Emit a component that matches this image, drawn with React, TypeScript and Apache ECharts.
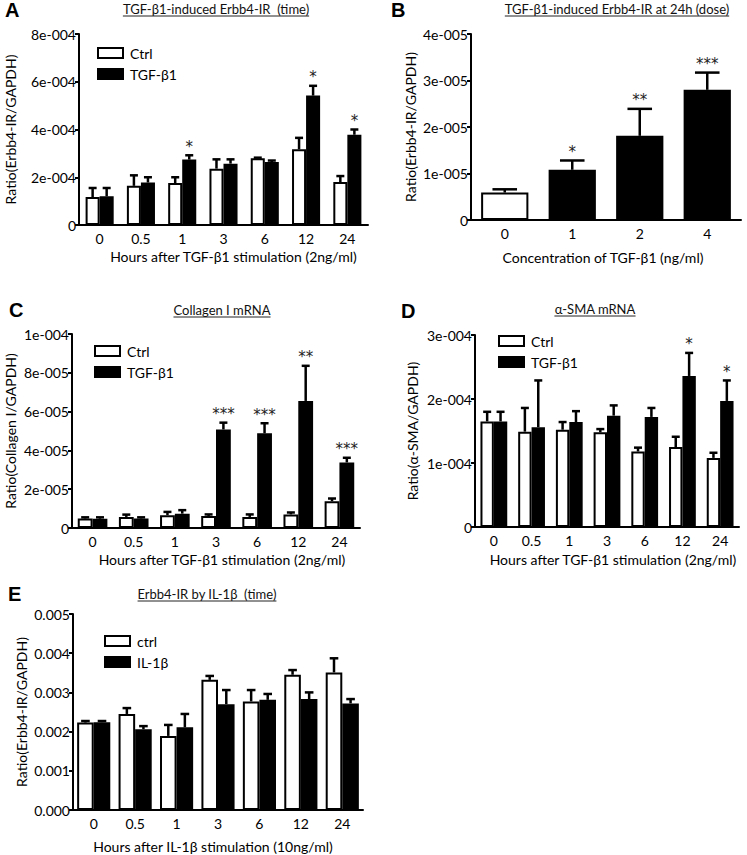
import React, { useEffect, useRef } from 'react';
import * as echarts from 'echarts';

const FONT = 'Lato';
const LETTER_FONT = 'Liberation Sans';

// ---------- categories ----------
const hourCats = ['0', '0.5', '1', '3', '6', '12', '24'];
const doseCats = ['0', '1', '2', '4'];

// ---------- Panel A: TGF-β1-induced Erbb4-IR (time) ----------
const aCtrl = [1.17e-4, 1.64e-4, 1.76e-4, 2.36e-4, 2.8e-4, 3.17e-4, 1.8e-4];
const aCtrlErr = [1.55e-4, 2.08e-4, 2.0e-4, 2.75e-4, 2.82e-4, 3.65e-4, 2.05e-4];
const aTgf = [1.2e-4, 1.78e-4, 2.74e-4, 2.57e-4, 2.64e-4, 5.42e-4, 3.78e-4];
const aTgfErr = [1.55e-4, 2.0e-4, 2.92e-4, 2.75e-4, 2.7e-4, 5.83e-4, 4.0e-4];
const aStars = ['', '', '*', '', '', '*', '*'];
const aTicks = ['0', '2e-004', '4e-004', '6e-004', '8e-004'];

// ---------- Panel B: dose ----------
const bVals = [0.59e-5, 1.08e-5, 1.81e-5, 2.8e-5];
const bErr = [0.66e-5, 1.28e-5, 2.39e-5, 3.17e-5];
const bStars = ['', '*', '**', '***'];
const bTicks = ['0', '1e-005', '2e-005', '3e-005', '4e-005'];

// ---------- Panel C: Collagen I mRNA ----------
const cCtrl = [0.49e-5, 0.57e-5, 0.66e-5, 0.62e-5, 0.57e-5, 0.7e-5, 1.38e-5];
const cCtrlErr = [0.55e-5, 0.69e-5, 0.83e-5, 0.7e-5, 0.7e-5, 0.8e-5, 1.52e-5];
const cTgf = [0.48e-5, 0.49e-5, 0.74e-5, 5.08e-5, 4.88e-5, 6.55e-5, 3.38e-5];
const cTgfErr = [0.55e-5, 0.55e-5, 0.92e-5, 5.43e-5, 5.4e-5, 8.36e-5, 3.62e-5];
const cStars = ['', '', '', '***', '***', '**', '***'];
const cTicks = ['0', '2e-005', '4e-005', '6e-005', '8e-005', '1e-004'];

// ---------- Panel D: α-SMA mRNA ----------
const dCtrl = [1.65e-4, 1.49e-4, 1.52e-4, 1.48e-4, 1.18e-4, 1.25e-4, 1.08e-4];
const dCtrlErr = [1.8e-4, 1.86e-4, 1.64e-4, 1.53e-4, 1.24e-4, 1.41e-4, 1.16e-4];
const dTgf = [1.65e-4, 1.56e-4, 1.64e-4, 1.74e-4, 1.72e-4, 2.36e-4, 1.97e-4];
const dTgfErr = [1.8e-4, 2.29e-4, 1.81e-4, 1.9e-4, 1.86e-4, 2.72e-4, 2.29e-4];
const dStars = ['', '', '', '', '', '*', '*'];
const dTicks = ['0', '1e-004', '2e-004', '3e-004'];

// ---------- Panel E: Erbb4-IR by IL-1β ----------
const eCtrl = [0.00223, 0.00245, 0.00189, 0.00332, 0.00277, 0.00345, 0.00351];
const eCtrlErr = [0.00227, 0.0026, 0.00217, 0.00342, 0.00306, 0.00357, 0.00387];
const eIl = [0.00224, 0.00206, 0.00211, 0.0027, 0.00281, 0.00283, 0.00272];
const eIlErr = [0.00227, 0.00214, 0.00245, 0.00306, 0.00296, 0.003, 0.00283];
const eTicks = ['0.000', '0.001', '0.002', '0.003', '0.004', '0.005'];

const titles = [
  { text: 'TGF-β1-induced Erbb4-IR  (time)', cx: 216, cy: 9, uy: 16 },
  { text: 'TGF-β1-induced Erbb4-IR at 24h (dose)', cx: 617, cy: 9, uy: 16 },
  { text: 'Collagen I mRNA', cx: 222, cy: 310, uy: 317 },
  { text: 'α-SMA mRNA', cx: 595, cy: 309, uy: 316 },
  { text: 'Erbb4-IR by IL-1β  (time)', cx: 207, cy: 594, uy: 601 },
];
const letters = [
  { t: 'A', x: 5, y: 0 },
  { t: 'B', x: 391, y: 0 },
  { t: 'C', x: 9, y: 300 },
  { t: 'D', x: 401, y: 301 },
  { t: 'E', x: 8, y: 584 },
];

function measure(text: string, size: number, family: string) {
  const ctx = document.createElement('canvas').getContext('2d');
  if (!ctx) return text.length * size * 0.5;
  ctx.font = `${size}px ${family}`;
  return ctx.measureText(text).width;
}

const TITLE_SIZE = 13;
const AX_SIZE = 14;

function yAxis(gridIndex: number, max: number, interval: number, labels: string[], name: string, gap: number) {
  return {
    type: 'value',
    gridIndex,
    min: 0,
    max,
    interval,
    name,
    nameLocation: 'middle',
    nameGap: gap,
    nameTextStyle: { fontFamily: FONT, fontSize: AX_SIZE, color: '#000' },
    axisLine: { show: true, lineStyle: { color: '#000', width: 2 } },
    axisTick: { show: true, length: 4, lineStyle: { color: '#000', width: 2 } },
    splitLine: { show: false },
    axisLabel: {
      margin: 3,
      fontFamily: FONT,
      fontSize: AX_SIZE,
      color: '#000',
      formatter: (v: number) => labels[Math.round(v / interval)] ?? '',
    },
  };
}

function xAxis(gridIndex: number, cats: string[], name: string, gap: number, pad: number[]) {
  return {
    type: 'category',
    gridIndex,
    data: cats,
    name,
    nameLocation: 'middle',
    nameGap: gap,
    nameTextStyle: { fontFamily: FONT, fontSize: AX_SIZE, color: '#000', padding: pad },
    axisLine: { show: true, lineStyle: { color: '#000', width: 2 } },
    axisTick: { show: false },
    axisLabel: { margin: 6, fontFamily: FONT, fontSize: AX_SIZE, color: '#000', interval: 0 },
  };
}

function bar(name: string, idx: number, data: any[], white: boolean, gapPct: number) {
  return {
    type: 'bar',
    name,
    xAxisIndex: idx,
    yAxisIndex: idx,
    data,
    barGap: '0%',
    barCategoryGap: gapPct + '%',
    itemStyle: { color: white ? '#fff' : '#000', borderColor: '#000', borderWidth: 2 },
    emphasis: { disabled: true },
  };
}

function errSeries(idx: number, vals: number[], errs: number[], stars: string[] | null, offset: number, nBars: number, gapPct: number) {
  return {
    type: 'custom',
    xAxisIndex: idx,
    yAxisIndex: idx,
    silent: true,
    z: 5,
    itemStyle: { color: '#000' },
    data: vals.map((v, i) => [i, v, errs[i]]),
    encode: { x: 0, y: [1, 2] },
    renderItem: (params: any, api: any) => {
      const i = api.value(0);
      const band = api.size([1, 0])[0];
      const barW = (band * (1 - gapPct / 100)) / nBars;
      const cx = api.coord([i, 0])[0] + (offset * barW) / 2;
      const yv = api.coord([i, api.value(1)])[1];
      const ye = api.coord([i, api.value(2)])[1];
      const cap = Math.max(4, barW * 0.26);
      const children: any[] = [
        { type: 'line', shape: { x1: cx, y1: yv, x2: cx, y2: ye }, style: { stroke: '#000', lineWidth: 2.5 } },
        { type: 'line', shape: { x1: cx - cap, y1: ye, x2: cx + cap, y2: ye }, style: { stroke: '#000', lineWidth: 2.5 } },
      ];
      const s = stars ? stars[params.dataIndex] : '';
      if (s) {
        children.push({
          type: 'text',
          x: cx,
          y: ye - 1,
          style: { text: s, fill: '#222', fontSize: 15, fontFamily: 'DejaVu Sans', align: 'center', verticalAlign: 'bottom' },
        });
      }
      return { type: 'group', children };
    },
  };
}

function legend(names: string[], left: number, top: number) {
  return {
    data: names,
    orient: 'vertical',
    left,
    top,
    padding: 0,
    itemWidth: 25,
    itemHeight: 10,
    itemGap: 5,
    icon: 'rect',
    selectedMode: false,
    textStyle: { fontFamily: FONT, fontSize: 14, color: '#000', lineHeight: 16, padding: [0, 0, 0, 2] },
  };
}

export default function App() {
  const ref = useRef<HTMLDivElement>(null);
  useEffect(() => {
    document.body.style.margin = '0';
    if (!ref.current) return;
    const chart = echarts.init(ref.current, null, { renderer: 'svg' });

    const graphic: any[] = [];
    letters.forEach((l) => {
      graphic.push({
        type: 'text',
        left: l.x,
        top: l.y,
        style: { text: l.t, fontFamily: LETTER_FONT, fontWeight: 'bold', fontSize: 20, fill: '#000' },
      });
    });
    titles.forEach((t) => {
      const w = measure(t.text, TITLE_SIZE, FONT);
      graphic.push({
        type: 'text',
        x: t.cx,
        y: t.cy,
        style: { text: t.text, fontFamily: FONT, fontSize: TITLE_SIZE, fill: '#111', align: 'center', verticalAlign: 'middle' },
      });
      graphic.push({
        type: 'line',
        shape: { x1: t.cx - w / 2, y1: t.uy, x2: t.cx + w / 2, y2: t.uy },
        style: { stroke: '#222', lineWidth: 1 },
      });
    });

    const GA = 32, GB = 30, GC = 28, GD = 29, GE = 20;

    chart.setOption({
      animation: false,
      color: ['#000'],
      grid: [
        { left: 79, top: 34, width: 289, height: 191 },
        { left: 471, top: 34, width: 270, height: 186 },
        { left: 72, top: 334, width: 288, height: 194 },
        { left: 475, top: 335, width: 264, height: 192 },
        { left: 73, top: 614, width: 290, height: 196 },
      ],
      xAxis: [
        xAxis(0, hourCats, 'Hours after TGF-β1 stimulation (2ng/ml)', 24, [0, 0, 0, 20]),
        xAxis(1, doseCats, 'Concentration of TGF-β1 (ng/ml)', 30, [0, 6, 0, 0]),
        xAxis(2, hourCats, 'Hours after TGF-β1 stimulation (2ng/ml)', 24, [0, 0, 0, 12]),
        xAxis(3, hourCats, 'Hours after TGF-β1 stimulation (2ng/ml)', 25, [0, 0, 0, 12]),
        xAxis(4, hourCats, 'Hours after IL-1β stimulation (10ng/ml)', 29, [0, 10, 0, 0]),
      ],
      yAxis: [
        yAxis(0, 8e-4, 2e-4, aTicks, 'Ratio(Erbb4-IR/GAPDH)', 62),
        yAxis(1, 4e-5, 1e-5, bTicks, 'Ratio(Erbb4-IR/GAPDH)', 54),
        yAxis(2, 1e-4, 2e-5, cTicks, 'Ratio(Collagen I/GAPDH)', 55),
        yAxis(3, 3e-4, 1e-4, dTicks, 'Ratio(α-SMA/GAPDH)', 56),
        yAxis(4, 0.005, 0.001, eTicks, 'Ratio(Erbb4-IR/GAPDH)', 45),
      ],
      legend: [
        legend(['Ctrl', 'TGF-β1'], 97, 45),
        legend(['Ctrl', 'TGF-β1'], 94, 343),
        legend(['Ctrl', 'TGF-β1'], 498, 333),
        legend(['ctrl', 'IL-1β'], 104, 633),
      ],
      graphic,
      series: [
        bar('Ctrl', 0, aCtrl, true, GA),
        bar('TGF-β1', 0, aTgf, false, GA),
        errSeries(0, aCtrl, aCtrlErr, null, -1, 2, GA),
        errSeries(0, aTgf, aTgfErr, aStars, 1, 2, GA),

        bar('dose', 1, bVals.map((v, i) => ({ value: v, itemStyle: { color: i === 0 ? '#fff' : '#000' } })), false, GB),
        errSeries(1, bVals, bErr, bStars, 0, 1, GB),

        bar('Ctrl', 2, cCtrl, true, GC),
        bar('TGF-β1', 2, cTgf, false, GC),
        errSeries(2, cCtrl, cCtrlErr, null, -1, 2, GC),
        errSeries(2, cTgf, cTgfErr, cStars, 1, 2, GC),

        bar('Ctrl', 3, dCtrl, true, GD),
        bar('TGF-β1', 3, dTgf, false, GD),
        errSeries(3, dCtrl, dCtrlErr, null, -1, 2, GD),
        errSeries(3, dTgf, dTgfErr, dStars, 1, 2, GD),

        bar('ctrl', 4, eCtrl, true, GE),
        bar('IL-1β', 4, eIl, false, GE),
        errSeries(4, eCtrl, eCtrlErr, null, -1, 2, GE),
        errSeries(4, eIl, eIlErr, null, 1, 2, GE),
      ],
    });
    return () => chart.dispose();
  }, []);
  return <div ref={ref} style={{ width: 747, height: 855 }} />;
}
